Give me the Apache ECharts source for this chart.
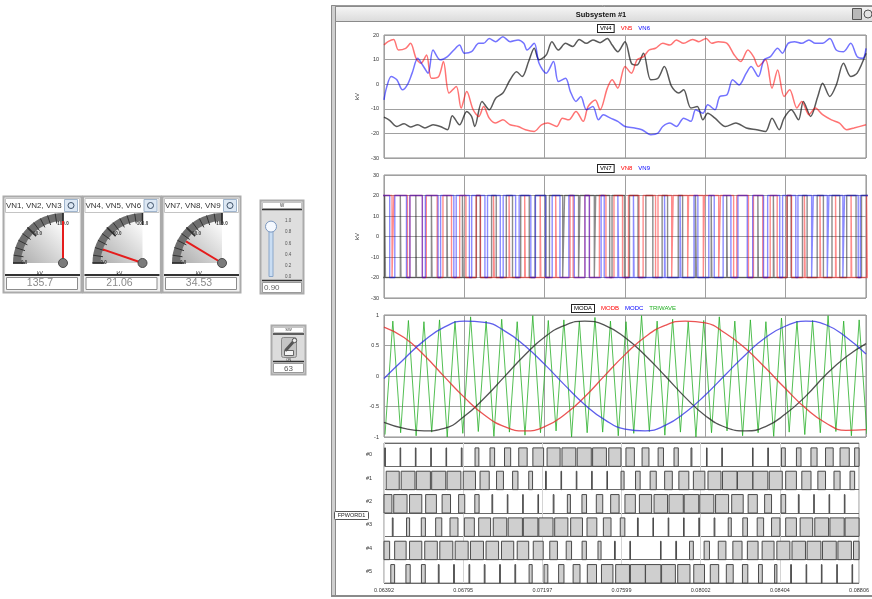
<!DOCTYPE html>
<html><head><meta charset="utf-8">
<script src="https://cdn.jsdelivr.net/npm/echarts@6/dist/echarts.min.js"></script>
<style>html,body{margin:0;padding:0;background:#fff}#c{width:872px;height:599px}</style>
</head><body><div id="c"></div>
<script>
// ---------- data ----------
const xTickLabels = ['0.06392','0.06795','0.07197','0.07599','0.08002','0.08404','0.08806'];
const gaugeTitles = ['VN1, VN2, VN3','VN4, VN5, VN6','VN7, VN8, VN9'];
const gaugeValues = [135.7, 21.06, 34.53];
const gaugeUnit = 'kV';
const sliderValue = 0.90;
const switchValue = 63;
const legend1 = ['VN4','VN5','VN6'];
const legend2 = ['VN7','VN8','VN9'];
const legend3 = ['MODA','MODB','MODC','TRIWAVE'];
const rowNames = ['#0','#1','#2','#3','#4','#5'];

// plot 1 (kV), x in axis divisions
const vn4 = [[0,-13.4],[0.07,-14.7],[0.16,-17.2],[0.25,-16.1],[0.33,-17.4],[0.42,-16.5],[0.51,-17.8],[0.61,-16.5],[0.70,-17.2],[0.79,-18.5],[0.85,-12.8],[0.94,-16.5],[1.03,-11.1],[1.09,-13.1],[1.13,-17.2],[1.22,-7.0],[1.31,-10.4],[1.39,-5.7],[1.48,-3.6],[1.57,1.8],[1.65,5.1],[1.72,3.1],[1.80,9.2],[1.87,14.6],[1.93,9.9],[2.02,11.9],[2.09,17.3],[2.17,13.9],[2.26,16.6],[2.35,15.3],[2.43,18.2],[2.52,16.6],[2.60,18.0],[2.69,16.9],[2.78,18.6],[2.84,15.9],[2.91,13.2],[3.00,17.3],[3.08,8.5],[3.15,7.8],[3.23,12.6],[3.32,1.8],[3.41,2.4],[3.49,7.2],[3.58,-0.9],[3.67,-3.6],[3.73,-2.3],[3.82,-9.7],[3.90,-9.1],[3.97,-14.5],[4.03,-11.8],[4.12,-13.8],[4.25,-17.2],[4.38,-15.8],[4.51,-17.8],[4.64,-18.5],[4.75,-19.2],[4.83,-13.8],[4.92,-18.5],[4.98,-13.8],[5.07,-10.4],[5.16,-14.5],[5.22,-7.0],[5.31,-13.1],[5.40,-5.0],[5.46,0.4],[5.55,-5.0],[5.63,-0.3],[5.72,8.5],[5.81,3.1],[5.89,4.5],[6.00,12.6]];
const vn5 = [[0,16.0],[0.05,17.3],[0.12,18.2],[0.18,13.9],[0.27,14.6],[0.33,16.6],[0.40,10.5],[0.46,8.5],[0.53,11.9],[0.59,2.4],[0.68,3.1],[0.74,9.2],[0.81,-3.6],[0.90,-0.9],[0.96,-9.7],[1.03,-3.0],[1.11,-10.4],[1.18,-13.1],[1.24,-9.1],[1.31,-13.8],[1.39,-15.8],[1.48,-14.5],[1.57,-16.5],[1.67,-17.2],[1.76,-18.5],[1.87,-19.2],[1.96,-16.5],[2.04,-15.8],[2.15,-17.2],[2.22,-13.8],[2.30,-14.5],[2.39,-11.1],[2.48,-15.1],[2.54,-9.1],[2.63,-6.4],[2.69,-10.4],[2.78,-1.6],[2.84,1.8],[2.91,-1.6],[3.00,7.2],[3.08,4.5],[3.15,9.9],[3.23,11.2],[3.30,13.9],[3.38,14.6],[3.47,16.6],[3.56,15.9],[3.64,18.0],[3.73,16.6],[3.84,18.2],[3.92,17.3],[4.01,18.6],[4.08,16.6],[4.16,17.3],[4.27,16.6],[4.36,11.9],[4.44,9.2],[4.53,13.9],[4.60,11.2],[4.66,7.2],[4.75,9.9],[4.83,-1.6],[4.90,5.8],[4.98,-5.0],[5.05,-2.3],[5.14,-9.7],[5.20,-7.0],[5.29,-12.4],[5.37,-9.7],[5.46,-12.4],[5.57,-14.5],[5.67,-15.8],[5.76,-18.5],[5.85,-17.8],[6.00,-16.5]];
const vn6 = [[0,-6.4],[0.03,-1.6],[0.09,3.1],[0.16,1.8],[0.23,-2.3],[0.29,-0.3],[0.35,4.5],[0.42,10.5],[0.48,7.8],[0.55,4.5],[0.61,13.9],[0.70,9.9],[0.79,11.2],[0.87,13.9],[0.94,15.9],[1.00,12.6],[1.09,13.2],[1.18,16.6],[1.24,16.6],[1.31,18.6],[1.39,17.3],[1.48,19.3],[1.57,17.3],[1.67,18.0],[1.74,16.6],[1.78,13.9],[1.87,16.6],[1.93,8.5],[2.02,4.5],[2.11,9.2],[2.17,1.1],[2.26,2.4],[2.32,-3.0],[2.39,-7.0],[2.45,-5.0],[2.52,-10.4],[2.60,-9.1],[2.67,-14.5],[2.73,-12.4],[2.82,-13.8],[2.91,-15.1],[3.00,-17.2],[3.12,-17.8],[3.21,-18.5],[3.32,-20.5],[3.41,-19.9],[3.47,-17.2],[3.56,-15.8],[3.64,-17.2],[3.73,-13.8],[3.82,-15.1],[3.88,-10.4],[3.97,-11.8],[4.03,-8.4],[4.12,-10.4],[4.18,-5.0],[4.27,-4.3],[4.34,1.8],[4.42,-0.3],[4.51,4.5],[4.57,7.2],[4.66,3.1],[4.73,9.9],[4.81,11.2],[4.90,14.6],[4.96,12.6],[5.03,16.6],[5.11,17.3],[5.20,16.6],[5.29,18.0],[5.37,16.6],[5.46,16.6],[5.55,18.6],[5.63,13.9],[5.72,13.2],[5.81,16.6],[5.89,11.2],[5.96,10.5],[6.00,14.6]];

// plot 3 (modulating signals), sampled every quarter division
const modX = [0,0.25,0.5,0.75,1,1.25,1.5,1.75,2,2.25,2.5,2.75,3,3.25,3.5,3.75,4,4.25,4.5,4.75,5,5.25,5.5,5.75,6];
const modA = [-0.76,-0.86,-0.90,-0.86,-0.66,-0.36,-0.01,0.34,0.64,0.83,0.90,0.83,0.63,0.34,0.00,-0.35,-0.65,-0.84,-0.90,-0.83,-0.62,-0.33,0.02,0.31,0.53];
const modB = [0.80,0.63,0.34,-0.01,-0.35,-0.64,-0.83,-0.90,-0.83,-0.63,-0.34,0.01,0.35,0.64,0.83,0.90,0.87,0.70,0.45,0.13,-0.21,-0.53,-0.77,-0.89,-0.88];
const modC = [-0.04,0.28,0.58,0.80,0.90,0.88,0.74,0.50,0.19,-0.15,-0.47,-0.72,-0.87,-0.90,-0.81,-0.60,-0.31,0.02,0.35,0.63,0.82,0.90,0.84,0.64,0.36];

// carrier (triangle) vertices
const troughs = [0.013,0.207,0.400,0.594,0.787,0.981,1.174,1.368,1.561,1.755,1.948,2.142,2.335,2.529,2.722,2.916,3.109,3.303,3.496,3.690,3.883,4.077,4.270,4.464,4.657,4.851,5.044,5.238,5.431,5.625,5.818,6.012];
const peaks = [0.110,0.304,0.497,0.691,0.884,1.078,1.271,1.465,1.658,1.852,2.045,2.239,2.432,2.626,2.819,3.013,3.206,3.400,3.593,3.787,3.980,4.174,4.367,4.561,4.754,4.948,5.141,5.335,5.528,5.722,5.915];
const triLow = [-0.96,-0.93,-0.98,-0.92,-1.0,-0.94,-0.91,-0.99,-0.92,-0.97,-0.93,-0.90,-1.0,-0.93,-0.92,-0.98,-0.94,-0.91,-0.97,-0.92,-1.0,-0.93,-0.90,-0.98,-0.93,-0.99,-0.92,-0.96,-0.93,-0.91,-0.98,-0.95];
const triHigh = [0.90,0.91,0.89,0.92,0.90,0.97,0.90,0.93,0.89,0.99,0.91,0.92,0.90,0.96,0.90,0.89,0.99,0.90,0.93,0.89,0.91,0.97,0.90,0.92,0.89,0.95,0.90,0.91,0.99,0.90,0.92];
const carrierPeriod = 0.1935;

// gate word bits: pulse duty per carrier cycle
const duty0 = [0.05,0.04,0.04,0.04,0.04,0.05,0.25,0.30,0.40,0.55,0.70,0.85,0.90,0.92,0.90,0.80,0.55,0.45,0.35,0.28,0.06,0.04,0.04,0,0.03,0.04,0.25,0.30,0.40,0.50,0.60,0.70];
const duty1 = [0.85,0.90,0.92,0.92,0.90,0.80,0.60,0.45,0.35,0.25,0.05,0.04,0.04,0.04,0.04,0.20,0.30,0.40,0.50,0.65,0.75,0.85,0.95,1.0,0.97,0.85,0.70,0.60,0.50,0.40,0.30];
const duty2 = [0.90,0.87,0.80,0.70,0.55,0.40,0.28,0.05,0.04,0.04,0.04,0.05,0.20,0.30,0.42,0.55,0.68,0.80,0.88,0.93,0.95,0.92,0.85,0.75,0.60,0.45,0.30,0.05,0.04,0.04,0.04,0.05];
const duty3 = [0.05,0.20,0.27,0.40,0.52,0.65,0.78,0.88,0.93,0.95,0.93,0.86,0.77,0.64,0.50,0.30,0.05,0.04,0.04,0.04,0.04,0.05,0.20,0.30,0.42,0.55,0.70,0.82,0.90,0.93,0.95];
const duty4 = [0.60,0.75,0.80,0.82,0.85,0.85,0.85,0.82,0.80,0.75,0.65,0.50,0.35,0.28,0.20,0.05,0.04,0,0.04,0.05,0.25,0.35,0.50,0.60,0.70,0.78,0.85,0.88,0.90,0.90,0.88,0.85];
const duty5 = [0.25,0.28,0.25,0.05,0.05,0.05,0.05,0.05,0.05,0.20,0.25,0.35,0.45,0.60,0.75,0.90,0.97,1.0,0.90,0.80,0.70,0.55,0.45,0.35,0.25,0.15,0.05,0.04,0.04,0.04,0.04];
const vHigh = 20, vLow = -20;

// ---------- build ----------
const FONT = 'Liberation Sans';
const triData = [];
for (let i = 0; i < troughs.length; i++) {
  triData.push([troughs[i], triLow[i]]);
  if (i < peaks.length) triData.push([peaks[i], triHigh[i]]);
}
const zip = (xs, ys) => xs.map((x, i) => [x, ys[i]]);
function stepFrom(centers, duty) {
  const pts = [[-0.3, vLow]];
  centers.forEach((c, i) => {
    const w = duty[i] * carrierPeriod;
    if (w <= 0) return;
    const s = c - w / 2, e = c + w / 2;
    pts.push([s, vLow], [s, vHigh], [e, vHigh], [e, vLow]);
  });
  pts.push([6.3, vLow]);
  return pts;
}
const rowCenters = [troughs, peaks, troughs, peaks, troughs, peaks];
const rowDuty = [duty0, duty1, duty2, duty3, duty4, duty5];
const pulseData = [];
rowDuty.forEach((d, r) => d.forEach((v, i) => pulseData.push([rowCenters[r][i], v, r])));

const chart = echarts.init(document.getElementById('c'), null, {renderer: 'canvas'});

const gridBase = {left: 384, width: 482, show: true, borderColor: '#8c8c8c', borderWidth: 1, backgroundColor: '#fff'};
const grids = [
  Object.assign({top: 35, height: 123}, gridBase),
  Object.assign({top: 175, height: 123}, gridBase),
  Object.assign({top: 315, height: 122}, gridBase),
  Object.assign({top: 443, height: 140}, gridBase),
  {left: 266, top: 221, width: 10, height: 56}
];
function mkX(i, labels, splitColor) {
  return {type: 'value', gridIndex: i, min: 0, max: 6, interval: 1,
    axisLine: {show: false}, axisTick: {show: false},
    axisLabel: {show: labels, fontSize: 5.5, color: '#333', margin: 4, fontFamily: FONT,
      formatter: v => xTickLabels[Math.round(v)]},
    splitLine: {show: true, lineStyle: {color: splitColor, width: 1}}};
}
function mkY(i, min, max, interval, name) {
  return {type: 'value', gridIndex: i, min, max, interval,
    name: name || '', nameLocation: 'middle', nameGap: 17, nameRotate: 90,
    nameTextStyle: {fontSize: 6, color: '#333', fontFamily: FONT},
    axisLine: {show: false}, axisTick: {show: false},
    axisLabel: {fontSize: 5.5, color: '#333', margin: 5, fontFamily: FONT},
    splitLine: {show: true, lineStyle: {color: '#a0a0a0', width: 1}}};
}
const xAxes = [mkX(0, false, '#a0a0a0'), mkX(1, false, '#a0a0a0'), mkX(2, false, '#a0a0a0'), mkX(3, true, '#d4d4d4'),
  {type: 'category', gridIndex: 4, data: ['s'], show: false}];
const yAxes = [mkY(0, -30, 20, 10, 'kV'), mkY(1, -30, 30, 10, 'kV'), mkY(2, -1, 1, 0.5),
  {type: 'category', gridIndex: 3, data: rowNames, inverse: true,
    axisLine: {show: false}, axisTick: {show: false},
    axisLabel: {fontSize: 5.5, color: '#333', margin: 12, fontFamily: FONT},
    splitLine: {show: true, interval: 0, lineStyle: {color: '#6a6a6a', width: 1}}},
  {type: 'value', gridIndex: 4, min: 0, max: 1, interval: 0.2, position: 'right',
    axisLine: {show: false}, axisTick: {show: false}, splitLine: {show: false},
    axisLabel: {fontSize: 4.5, color: '#555', margin: 9, fontFamily: FONT, formatter: v => v.toFixed(1)}}];

const legColors = {VN4: '#000', VN5: '#ff0000', VN6: '#0000ff', VN7: '#000', VN8: '#ff0000', VN9: '#0000ff',
  MODA: '#000', MODB: '#ff0000', MODC: '#0000ff', TRIWAVE: '#1fae1f'};
function mkLegend(names, left, top) {
  return {left, top, orient: 'horizontal', selectedMode: false, icon: 'none', itemWidth: 0, itemHeight: 0,
    itemGap: 0, padding: 0,
    data: names.map((n, i) => ({name: n, textStyle: Object.assign({color: legColors[n], fontSize: 6, fontFamily: FONT},
      i === 0 ? {borderColor: '#222', borderWidth: 1, padding: [1, 2, 0, 2], backgroundColor: '#fff'} : {padding: [1, 1, 0, 1]})}))};
}

const series = [
  {name: 'VN4', type: 'line', xAxisIndex: 0, yAxisIndex: 0, data: vn4, symbol: 'none', smooth: 0.3, lineStyle: {color: 'rgba(0,0,0,0.65)', width: 1.5}, itemStyle: {color: '#000'}},
  {name: 'VN5', type: 'line', xAxisIndex: 0, yAxisIndex: 0, data: vn5, symbol: 'none', smooth: 0.3, lineStyle: {color: 'rgba(255,0,0,0.55)', width: 1.5}, itemStyle: {color: '#f00'}},
  {name: 'VN6', type: 'line', xAxisIndex: 0, yAxisIndex: 0, data: vn6, symbol: 'none', smooth: 0.3, lineStyle: {color: 'rgba(0,0,255,0.55)', width: 1.5}, itemStyle: {color: '#00f'}},
  {name: 'VN7', type: 'line', xAxisIndex: 1, yAxisIndex: 1, data: stepFrom(troughs, duty0), symbol: 'none', clip: true, lineStyle: {color: 'rgba(0,0,0,0.45)', width: 1.4}, itemStyle: {color: '#000'}},
  {name: 'VN8', type: 'line', xAxisIndex: 1, yAxisIndex: 1, data: stepFrom(troughs, duty2), symbol: 'none', clip: true, lineStyle: {color: 'rgba(255,0,0,0.45)', width: 1.4}, itemStyle: {color: '#f00'}},
  {name: 'VN9', type: 'line', xAxisIndex: 1, yAxisIndex: 1, data: stepFrom(troughs, duty4), symbol: 'none', clip: true, lineStyle: {color: 'rgba(0,0,255,0.45)', width: 1.4}, itemStyle: {color: '#00f'}},
  {name: 'MODA', type: 'line', xAxisIndex: 2, yAxisIndex: 2, data: zip(modX, modA), symbol: 'none', smooth: true, z: 3, lineStyle: {color: 'rgba(40,40,40,0.8)', width: 1.3}, itemStyle: {color: '#000'}},
  {name: 'MODB', type: 'line', xAxisIndex: 2, yAxisIndex: 2, data: zip(modX, modB), symbol: 'none', smooth: true, z: 3, lineStyle: {color: 'rgba(230,40,40,0.8)', width: 1.3}, itemStyle: {color: '#f00'}},
  {name: 'MODC', type: 'line', xAxisIndex: 2, yAxisIndex: 2, data: zip(modX, modC), symbol: 'none', smooth: true, z: 3, lineStyle: {color: 'rgba(40,40,230,0.75)', width: 1.3}, itemStyle: {color: '#00f'}},
  {name: 'TRIWAVE', type: 'line', xAxisIndex: 2, yAxisIndex: 2, data: triData, symbol: 'none', clip: true, z: 2, lineStyle: {color: 'rgba(40,175,40,0.8)', width: 1}, itemStyle: {color: '#1fae1f'}},
  {name: 'FPWORD1', type: 'custom', xAxisIndex: 3, yAxisIndex: 3, data: pulseData, encode: {x: 0, y: 2},
    renderItem(params, api) {
      const c = api.value(0), w = api.value(1) * carrierPeriod, r = api.value(2);
      if (!(w > 0)) return;
      const a = api.coord([c - w / 2, r]), b = api.coord([c + w / 2, r]);
      const band = Math.abs(api.size([0, 1])[1]);
      const cs = params.coordSys;
      const x0 = Math.max(a[0], cs.x), x1 = Math.min(b[0], cs.x + cs.width);
      if (x1 <= x0) return;
      const yb = a[1] + band / 2, h = band * 0.79;
      return {type: 'rect', shape: {x: x0, y: yb - h, width: Math.max(x1 - x0, 0.6), height: h},
        style: {fill: '#cfcfcf', stroke: '#4a4a4a', lineWidth: 1}};
    }},
  {type: 'bar', xAxisIndex: 4, yAxisIndex: 4, data: [sliderValue], barWidth: 5, z: 3,
    itemStyle: {color: '#c9ddf3', borderColor: '#8aa6c9', borderWidth: 1}},
  {type: 'scatter', xAxisIndex: 4, yAxisIndex: 4, data: [sliderValue], symbolSize: 11, z: 4,
    itemStyle: {color: '#f5f9ff', borderColor: '#7b97be', borderWidth: 1, opacity: 1}}
];

const gaugeLeft = [3, 82.5, 162];
gaugeValues.forEach((v, i) => {
  series.push({type: 'gauge', center: [gaugeLeft[i] + 60, 263], radius: 50, startAngle: 180, endAngle: 90,
    min: 0, max: 100, splitNumber: 2, z: 4,
    axisLine: {lineStyle: {width: 8, color: [[1, '#6e6e6e']]}},
    splitLine: {distance: -8, length: 12, lineStyle: {color: '#2a2a2a', width: 1.5}},
    axisTick: {distance: -8, length: 10, splitNumber: 5, lineStyle: {color: '#333', width: 1}},
    axisLabel: {distance: 4, fontSize: 4.5, color: '#333', fontWeight: 'bold', fontFamily: FONT, formatter: x => x.toFixed(1)},
    pointer: {icon: 'rect', width: 2, length: 42, offsetCenter: [0, 0], itemStyle: {color: '#e51c1c'}},
    anchor: {show: true, showAbove: true, size: 9, itemStyle: {color: '#7b7b7b', borderColor: '#4a4a4a', borderWidth: 1}},
    title: {show: true, offsetCenter: [-23, 10.5], fontSize: 5, color: '#222', fontFamily: FONT},
    detail: {show: true, offsetCenter: [-23, 20.5], fontSize: 10.5, fontWeight: 'normal', color: '#8a8a8a', fontFamily: FONT,
      formatter: String(v)},
    data: [{value: v, name: gaugeUnit}]});
});

// ---------- decorations ----------
const G = [];
const LG = (c1, c2, x2, y2) => new echarts.graphic.LinearGradient(0, 0, x2, y2, [{offset: 0, color: c1}, {offset: 1, color: c2}]);
gaugeTitles.forEach((t, i) => {
  const L = gaugeLeft[i];
  G.push({type: 'rect', z: -5, shape: {x: L + 0.5, y: 196.5, width: 78, height: 96}, style: {fill: '#f2f2f2', stroke: '#ababab', lineWidth: 2}});
  G.push({type: 'rect', z: -4, shape: {x: L + 2.5, y: 198.5, width: 74, height: 14}, style: {fill: '#fff', stroke: '#c4c4c4', lineWidth: 1}});
  G.push({type: 'text', z: 6, x: L + 3, y: 205.5, style: {text: t, fontSize: 8, fill: '#333', fontFamily: FONT, verticalAlign: 'middle'}});
  G.push({type: 'rect', z: 7, shape: {x: L + 61.5, y: 199.5, width: 13, height: 12}, style: {fill: '#dde8f4', stroke: '#9fb4cc', lineWidth: 1}});
  G.push({type: 'circle', z: 8, shape: {cx: L + 68, cy: 205.5, r: 3}, style: {fill: 'none', stroke: '#3c4f66', lineWidth: 1}});
  G.push({type: 'rect', z: -4, shape: {x: L + 2.5, y: 213, width: 74, height: 61}, style: {fill: '#fff'}});
  G.push({type: 'sector', z: -3, shape: {cx: L + 60, cy: 263, r: 42.5, r0: 0, startAngle: Math.PI, endAngle: Math.PI * 1.5, clockwise: true},
    style: {fill: new echarts.graphic.LinearGradient(1, 0, 0, 1, [{offset: 0, color: '#ffffff'}, {offset: 1, color: '#adadad'}])}});
  G.push({type: 'line', z: 1, shape: {x1: L + 2, y1: 275, x2: L + 77, y2: 275}, style: {stroke: '#333', lineWidth: 2}});
  G.push({type: 'rect', z: -4, shape: {x: L + 3.5, y: 277.5, width: 71, height: 12}, style: {fill: '#fff', stroke: '#8c8c8c', lineWidth: 1}});
});
// slider
G.push({type: 'rect', z: -5, shape: {x: 260.5, y: 200.5, width: 43, height: 93}, style: {fill: '#dedede', stroke: '#ababab', lineWidth: 2}});
G.push({type: 'rect', z: -4, shape: {x: 262.5, y: 202.5, width: 39, height: 6}, style: {fill: '#fff', stroke: '#c4c4c4', lineWidth: 1}});
G.push({type: 'text', z: 6, x: 282, y: 205.5, style: {text: 'W', fontSize: 4.5, fill: '#333', fontFamily: FONT, align: 'center', verticalAlign: 'middle'}});
G.push({type: 'line', z: 1, shape: {x1: 262, y1: 209.5, x2: 302, y2: 209.5}, style: {stroke: '#333', lineWidth: 1.5}});
G.push({type: 'line', z: 1, shape: {x1: 262, y1: 280.5, x2: 302, y2: 280.5}, style: {stroke: '#333', lineWidth: 1.5}});
G.push({type: 'rect', z: -4, shape: {x: 262.5, y: 282.5, width: 39, height: 10}, style: {fill: '#fff', stroke: '#9a9a9a', lineWidth: 1}});
G.push({type: 'text', z: 6, x: 264, y: 288, style: {text: sliderValue.toFixed(2), fontSize: 8, fill: '#666', fontFamily: FONT, verticalAlign: 'middle'}});
// switch
G.push({type: 'rect', z: -5, shape: {x: 271.5, y: 325.5, width: 34, height: 49}, style: {fill: '#dcdcdc', stroke: '#ababab', lineWidth: 2}});
G.push({type: 'rect', z: -4, shape: {x: 273.5, y: 327.5, width: 30, height: 5}, style: {fill: '#fff', stroke: '#c4c4c4', lineWidth: 1}});
G.push({type: 'text', z: 6, x: 288.5, y: 330, style: {text: 'SW', fontSize: 4, fill: '#333', fontFamily: FONT, align: 'center', verticalAlign: 'middle'}});
G.push({type: 'line', z: 1, shape: {x1: 273, y1: 334, x2: 304, y2: 334}, style: {stroke: '#333', lineWidth: 1.5}});
G.push({type: 'rect', z: 1, shape: {x: 281.5, y: 337.5, width: 15, height: 20, r: 2}, style: {fill: '#c4c4c4', stroke: '#8a8a8a', lineWidth: 1}});
G.push({type: 'rect', z: 2, shape: {x: 284.5, y: 350.5, width: 9, height: 5}, style: {fill: '#f4f4f4', stroke: '#666', lineWidth: 1}});
G.push({type: 'line', z: 3, shape: {x1: 286, y1: 350, x2: 294, y2: 341}, style: {stroke: '#555', lineWidth: 3, lineCap: 'round'}});
G.push({type: 'circle', z: 4, shape: {cx: 294.5, cy: 340.5, r: 2.2}, style: {fill: '#eee', stroke: '#555', lineWidth: 1}});
G.push({type: 'line', z: 1, shape: {x1: 273, y1: 361.5, x2: 304, y2: 361.5}, style: {stroke: '#333', lineWidth: 1.5}});
G.push({type: 'text', z: 6, x: 288.5, y: 360, style: {text: 'ON', fontSize: 3.5, fill: '#333', fontFamily: FONT, align: 'center', verticalAlign: 'middle'}});
G.push({type: 'rect', z: -4, shape: {x: 273.5, y: 363.5, width: 30, height: 9}, style: {fill: '#fff', stroke: '#9a9a9a', lineWidth: 1}});
G.push({type: 'text', z: 6, x: 288.5, y: 368.5, style: {text: String(switchValue), fontSize: 8, fill: '#555', fontFamily: FONT, align: 'center', verticalAlign: 'middle'}});
// subsystem panel
G.push({type: 'rect', z: -10, shape: {x: 331.5, y: 5.5, width: 545, height: 591}, style: {fill: '#fff', stroke: '#9a9a9a', lineWidth: 1}});
G.push({type: 'rect', z: -9, shape: {x: 331.5, y: 5.5, width: 4, height: 591}, style: {fill: '#cfcfcf', stroke: '#8a8a8a', lineWidth: 1}});
G.push({type: 'rect', z: -9, shape: {x: 335.5, y: 6.5, width: 540, height: 15}, style: {fill: LG('#f6f6f6', '#dadada', 0, 1), stroke: '#8a8a8a', lineWidth: 1}});
G.push({type: 'text', z: 6, x: 601, y: 14.5, style: {text: 'Subsystem #1', fontSize: 7.5, fontWeight: 'bold', fill: '#111', fontFamily: FONT, align: 'center', verticalAlign: 'middle'}});
G.push({type: 'rect', z: 6, shape: {x: 852.5, y: 8.5, width: 9, height: 11}, style: {fill: '#b8b8b8', stroke: '#555', lineWidth: 1}});
G.push({type: 'circle', z: 6, shape: {cx: 868, cy: 14, r: 4}, style: {fill: '#e4e4e4', stroke: '#555', lineWidth: 1}});
G.push({type: 'line', z: -9, shape: {x1: 331, y1: 596, x2: 872, y2: 596}, style: {stroke: '#8a8a8a', lineWidth: 2}});
G.push({type: 'rect', z: 6, shape: {x: 334.5, y: 511.5, width: 34, height: 8, r: 1}, style: {fill: '#fff', stroke: '#555', lineWidth: 1}});
G.push({type: 'text', z: 7, x: 351.5, y: 515.7, style: {text: 'FPWORD1', fontSize: 5.5, fill: '#222', fontFamily: FONT, align: 'center', verticalAlign: 'middle'}});

chart.setOption({
  animation: false,
  backgroundColor: '#fff',
  textStyle: {fontFamily: FONT},
  grid: grids,
  xAxis: xAxes,
  yAxis: yAxes,
  legend: [mkLegend(legend1, 593, 24), mkLegend(legend2, 593, 164), mkLegend(legend3, 567, 304)],
  series,
  graphic: {elements: G}
});
</script></body></html>
